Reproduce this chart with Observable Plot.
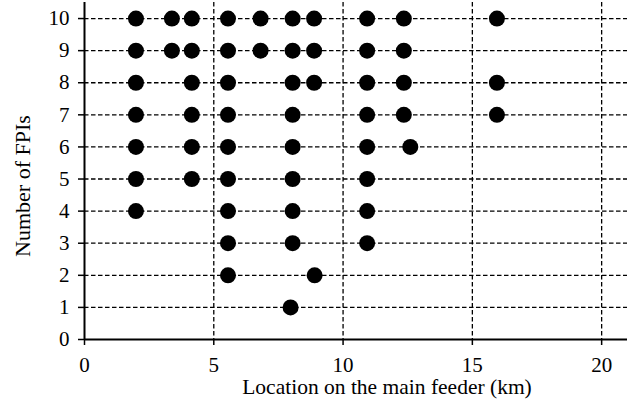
<!DOCTYPE html>
<html>
<head>
<meta charset="utf-8">
<script src="https://cdn.jsdelivr.net/npm/d3@7"></script>
<script src="https://cdn.jsdelivr.net/npm/@observablehq/plot@0.6"></script>
<style>
  html, body { margin: 0; padding: 0; background: white; }
  #chart svg { font-family: "Liberation Serif", "Times New Roman", serif !important; font-size: 21px !important; }
  #chart svg text { font-family: "Liberation Serif", "Times New Roman", serif !important; }
</style>
</head>
<body>
<div id="chart"></div>
<script>
// Number of FPIs (y) and the feeder locations (km) where each count was observed
const fpiCounts = [1, 2, 3, 4, 5, 6, 7, 8, 9, 10];
const locations1 = [7.97];
const locations2 = [5.55, 8.9];
const locations3 = [5.55, 8.05, 10.93];
const locations4 = [1.99, 5.55, 8.05, 10.93];
const locations5 = [1.99, 4.15, 5.55, 8.05, 10.93];
const locations6 = [1.99, 4.15, 5.55, 8.05, 10.93, 12.6];
const locations7 = [1.99, 4.15, 5.55, 8.05, 10.93, 12.35, 15.95];
const locations8 = [1.99, 4.15, 5.55, 8.05, 8.88, 10.93, 12.35, 15.95];
const locations9 = [1.99, 3.38, 4.15, 5.55, 6.81, 8.05, 8.88, 10.93, 12.35];
const locations10 = [1.99, 3.38, 4.15, 5.55, 6.81, 8.05, 8.88, 10.93, 12.35, 15.95];

// Axis ticks
const xTicks = [0, 5, 10, 15, 20];
const yTicks = [0, 1, 2, 3, 4, 5, 6, 7, 8, 9, 10];

const xTitle = "Location on the main feeder (km)";
const yTitle = "Number of FPIs";

const locationsByCount = [locations1, locations2, locations3, locations4, locations5,
  locations6, locations7, locations8, locations9, locations10];
const points = fpiCounts.flatMap((n, i) => locationsByCount[i].map(loc => ({location: loc, fpi: n})));

const dash = {stroke: "black", strokeWidth: 1.3, strokeDasharray: "4.5,2.5"};

const chart = Plot.plot({
  width: 633,
  height: 404,
  marginLeft: 84,
  marginRight: 6,
  marginTop: 2,
  marginBottom: 65,
  x: {domain: [0, 21]},
  y: {domain: [0, 10.5]},
  style: {color: "black", background: "white"},
  marks: [
    Plot.ruleY(yTicks.filter(d => d > 0), dash),
    Plot.ruleX(xTicks.filter(d => d > 0), dash),
    Plot.axisX({ticks: xTicks, tickSize: 6, tickPadding: 12, label: null, tickFormat: d => String(d), strokeWidth: 1.5}),
    Plot.axisY({ticks: yTicks, tickSize: 6, tickPadding: 9, label: null, tickFormat: d => String(d), strokeWidth: 1.5}),
    Plot.ruleX([0], {stroke: "black", strokeWidth: 2}),
    Plot.ruleY([0], {stroke: "black", strokeWidth: 2}),
    Plot.dot(points, {x: "location", y: "fpi", r: 8, fill: "black", stroke: "none"}),
    Plot.text([xTitle], {frameAnchor: "bottom", text: d => d, dx: 31, dy: 48, textAnchor: "middle", lineAnchor: "middle", fontSize: 21.5, fill: "black"}),
    Plot.text([yTitle], {frameAnchor: "left", text: d => d, rotate: -90, dx: -62, dy: 15, textAnchor: "middle", lineAnchor: "middle", fontSize: 22, fill: "black"})
  ]
});

document.getElementById("chart").appendChild(chart);
</script>
</body>
</html>
